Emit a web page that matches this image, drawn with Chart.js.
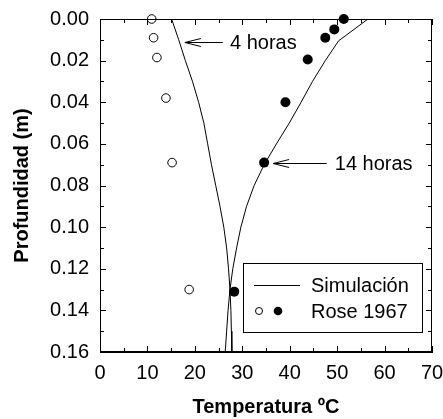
<!DOCTYPE html>
<html>
<head>
<meta charset="utf-8">
<script src="https://cdn.jsdelivr.net/npm/chart.js@4.4.1/dist/chart.umd.min.js"></script>
<style>
  html, body { margin: 0; padding: 0; background: #fff; }
  #wrap { width: 443px; height: 419px; }
</style>
</head>
<body>
<div id="wrap"><canvas id="soilChart" width="443" height="419"></canvas></div>
<script>
// Simulated profiles (depth in m, temperature in ºC)
const simDepth4h = [0, 0.01, 0.02, 0.03, 0.04, 0.05, 0.06, 0.07, 0.08, 0.09, 0.10, 0.11, 0.12, 0.13, 0.14, 0.15, 0.16];
const simTemp4h = [15.1, 16.6, 18.0, 19.5, 20.8, 21.9, 22.7, 23.5, 24.4, 25.3, 26.1, 26.7, 27.1, 27.4, 27.6, 27.7, 27.8];
const simDepth14h = [0, 0.0105, 0.02, 0.03, 0.04, 0.05, 0.06, 0.07, 0.08, 0.09, 0.10, 0.11, 0.12, 0.13, 0.14, 0.15, 0.16];
const simTemp14h = [56.5, 50.3, 47.5, 44.8, 42.4, 39.9, 37.2, 34.6, 32.5, 30.9, 29.7, 28.8, 28.0, 27.4, 27.0, 26.7, 26.4];

// Rose 1967 measurements
const obsDepth4h = [0, 0.009, 0.0185, 0.038, 0.069, 0.130];
const obsTemp4h = [10.9, 11.3, 12.0, 13.9, 15.2, 18.8];
const obsDepth14h = [0, 0.005, 0.009, 0.0195, 0.040, 0.069, 0.131];
const obsTemp14h = [51.4, 49.4, 47.5, 43.8, 39.1, 34.6, 28.3];

// Axis ticks
const xTicks = [0, 10, 20, 30, 40, 50, 60, 70];
const yTicks = [0, 0.02, 0.04, 0.06, 0.08, 0.10, 0.12, 0.14, 0.16];

const FONT = "'Liberation Sans', Arial, Helvetica, sans-serif";

const toPoints = (xs, ys) => xs.map((x, i) => ({ x: x, y: ys[i] }));

// arrows with labels, in data units
const notes = [
  { text: '4 horas', tipX: 17.9, tipY: 0.0111, tailX: 25.9, textX: 27.4 },
  { text: '14 horas', tipX: 36.5, tipY: 0.0691, tailX: 47.8, textX: 49.5 }
];

const frameTicks = {
  id: 'frameTicks',
  afterDatasetsDraw(chart) {
    const { ctx, chartArea: a, scales } = chart;
    const xs = scales.x, ys = scales.y;
    ctx.save();
    ctx.strokeStyle = '#000';
    ctx.lineWidth = 1;
    ctx.strokeRect(Math.round(a.left) + 0.5, Math.round(a.top) + 0.5,
      Math.round(a.right - a.left) - 1, Math.round(a.bottom - a.top) - 1);

    ctx.beginPath();
    const xMinor = xTicks.slice(1).map((v, i) => (v + xTicks[i]) / 2);
    const yMinor = yTicks.slice(1).map((v, i) => (v + yTicks[i]) / 2);
    const tickX = (v, len) => {
      const px = Math.round(xs.getPixelForValue(v)) + 0.5;
      ctx.moveTo(px, a.bottom); ctx.lineTo(px, a.bottom - len);
      ctx.moveTo(px, a.top); ctx.lineTo(px, a.top + len);
    };
    const tickY = (v, len) => {
      const py = Math.round(ys.getPixelForValue(v)) + 0.5;
      ctx.moveTo(a.left, py); ctx.lineTo(a.left + len, py);
      ctx.moveTo(a.right, py); ctx.lineTo(a.right - len, py);
    };
    xTicks.forEach(v => tickX(v, 6));
    xMinor.forEach(v => tickX(v, 4));
    yTicks.forEach(v => tickY(v, 6));
    yMinor.forEach(v => tickY(v, 4));
    ctx.stroke();

    // annotations
    ctx.font = '20px ' + FONT;
    ctx.fillStyle = '#000';
    ctx.textBaseline = 'middle';
    ctx.textAlign = 'left';
    notes.forEach(n => {
      const tx = xs.getPixelForValue(n.tipX);
      const ty = Math.round(ys.getPixelForValue(n.tipY)) + 0.5;
      const ex = xs.getPixelForValue(n.tailX);
      ctx.beginPath();
      ctx.moveTo(ex, ty); ctx.lineTo(tx, ty);
      ctx.moveTo(tx + 16, ty - 4); ctx.lineTo(tx, ty); ctx.lineTo(tx + 16, ty + 4);
      ctx.stroke();
      ctx.fillText(n.text, xs.getPixelForValue(n.textX), ty + 1);
    });

    // legend box
    const bx = a.left + 143, by = a.top + 244, bw = 179, bh = 69;
    ctx.fillStyle = '#fff';
    ctx.fillRect(bx, by, bw, bh);
    ctx.strokeRect(Math.round(bx) + 0.5, Math.round(by) + 0.5, bw, bh);
    ctx.beginPath();
    ctx.moveTo(bx + 11, by + 22.5); ctx.lineTo(bx + 57, by + 22.5);
    ctx.stroke();
    ctx.beginPath();
    ctx.arc(bx + 16, by + 48, 3.5, 0, Math.PI * 2);
    ctx.stroke();
    ctx.beginPath();
    ctx.fillStyle = '#000';
    ctx.arc(bx + 35, by + 48, 4.3, 0, Math.PI * 2);
    ctx.fill();
    ctx.fillText('Simulación', bx + 68, by + 23);
    ctx.fillText('Rose 1967', bx + 68, by + 49);
    ctx.restore();
  }
};

new Chart(document.getElementById('soilChart'), {
  type: 'scatter',
  data: {
    datasets: [
      {
        label: 'Rose 1967 (14 h)',
        data: toPoints(obsTemp14h, obsDepth14h),
        clip: false,
        pointRadius: 5,
        pointBorderWidth: 0,
        pointBackgroundColor: '#000',
        pointBorderColor: '#000'
      },
      {
        label: 'Rose 1967 (4 h)',
        data: toPoints(obsTemp4h, obsDepth4h),
        clip: false,
        pointRadius: 4.3,
        pointBorderWidth: 1,
        pointBackgroundColor: '#fff',
        pointBorderColor: '#000'
      },
      {
        label: 'Simulación 4 h',
        data: toPoints(simTemp4h, simDepth4h),
        showLine: true,
        borderColor: '#000',
        borderWidth: 1,
        pointRadius: 0,
        tension: 0
      },
      {
        label: 'Simulación 14 h',
        data: toPoints(simTemp14h, simDepth14h),
        showLine: true,
        borderColor: '#000',
        borderWidth: 1,
        pointRadius: 0,
        tension: 0
      }
    ]
  },
  options: {
    responsive: false,
    animation: false,
    layout: { padding: { top: 19, right: 11, left: 0, bottom: 0 } },
    plugins: {
      legend: { display: false },
      tooltip: { enabled: false }
    },
    scales: {
      x: {
        type: 'linear',
        min: 0,
        max: 70,
        afterBuildTicks: s => { s.ticks = xTicks.map(v => ({ value: v })); },
        afterFit: s => { s.height = 67; s.paddingLeft = 0; s.paddingRight = 0; },
        ticks: {
          color: '#000',
          padding: 9,
          maxRotation: 0,
          font: { family: FONT, size: 20 },
          callback: v => String(v)
        },
        grid: { display: false, drawTicks: false },
        border: { display: true, color: '#000', width: 1 },
        title: {
          display: true,
          text: 'Temperatura ºC',
          color: '#000',
          padding: { top: 0, bottom: 0 },
          font: { family: FONT, size: 20, weight: 'bold' }
        }
      },
      y: {
        type: 'linear',
        reverse: true,
        min: 0,
        max: 0.16,
        afterBuildTicks: s => { s.ticks = yTicks.map(v => ({ value: v })); },
        afterFit: s => { s.width = 100; s.paddingTop = 0; s.paddingBottom = 0; },
        ticks: {
          color: '#000',
          padding: 11,
          font: { family: FONT, size: 20 },
          callback: v => Number(v).toFixed(2)
        },
        grid: { display: false, drawTicks: false },
        border: { display: true, color: '#000', width: 1 },
        title: {
          display: true,
          text: 'Profundidad (m)',
          color: '#000',
          padding: { top: 10, bottom: 0 },
          font: { family: FONT, size: 20, weight: 'bold' }
        }
      }
    }
  },
  plugins: [frameTicks]
});
</script>
</body>
</html>
